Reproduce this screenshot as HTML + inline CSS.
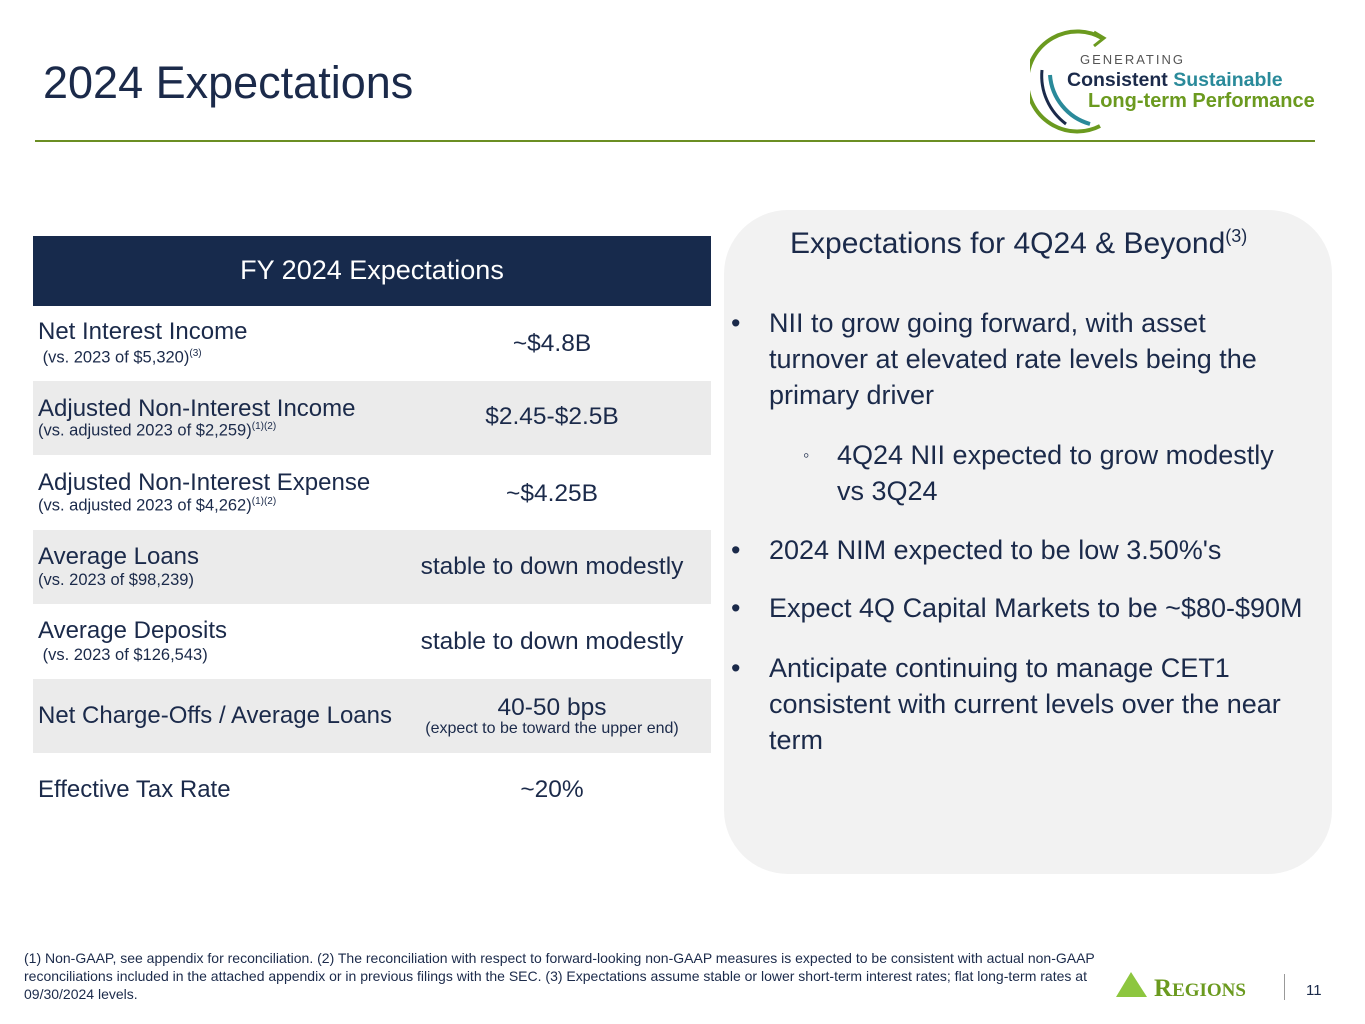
<!DOCTYPE html>
<html><head><meta charset="utf-8">
<style>
body{margin:0;width:1365px;height:1024px;background:#fff;position:relative;overflow:hidden;font-family:"Liberation Sans",sans-serif;color:#1b2a4a}
.a{position:absolute;white-space:nowrap}
.row{position:absolute;left:33px;width:678px;height:74px}
.shade{background:#ebebeb}
.lab{position:absolute;left:5px;font-size:24px;white-space:nowrap}
.sub{position:absolute;left:5px;font-size:16.5px;white-space:nowrap}
.val{position:absolute;left:360px;width:400px;margin-left:-41px;text-align:center;font-size:24.5px;white-space:nowrap}
sup{font-size:10px}
.b{position:absolute;font-size:27px;line-height:36px;left:769px;width:600px;white-space:nowrap}
.dot{position:absolute;left:-38px}
</style></head><body>
<div class="a" style="left:43px;top:57px;font-size:45px;">2024 Expectations</div>
<div style="position:absolute;left:35px;top:140px;width:1280px;height:2px;background:#6b8e23"></div>

<svg style="position:absolute;left:1030px;top:20px" width="300" height="120">
<path d="M72,18 A50,50 0 1 0 70,106" fill="none" stroke="#6b9a1f" stroke-width="4"/>
<path d="M64,12 L74,18 L64,26" fill="none" stroke="#6b9a1f" stroke-width="3"/>
<path d="M12,50 A60,60 0 0 0 36,104" fill="none" stroke="#1b2a4a" stroke-width="3"/>
<path d="M20,55 A55,55 0 0 0 60,104" fill="none" stroke="#2a8a9a" stroke-width="4"/>
<text x="50" y="44" font-size="13" fill="#555" letter-spacing="2" font-family="Liberation Sans">GENERATING</text>
<text x="37" y="66" font-size="19.5" font-weight="bold" fill="#1b2a4a" font-family="Liberation Sans">Consistent <tspan fill="#2a8a9a">Sustainable</tspan></text>
<text x="58" y="87" font-size="20" font-weight="bold" fill="#6b9a1f" font-family="Liberation Sans">Long-term Performance</text>
</svg>

<div>
<div style="position:absolute;left:33px;top:236px;width:678px;height:70px;background:#172a4c;color:#fff;font-size:27px;text-align:center;line-height:68px">FY 2024 Expectations</div>
<div class="row" style="top:306px"><div class="lab" style="top:12px">Net Interest Income</div><div class="sub" style="top:42px">&nbsp;(vs. 2023 of $5,320)<sup>(3)</sup></div><div class="val" style="top:24px">~$4.8B</div></div>
<div class="row shade" style="top:381px"><div class="lab" style="top:14px">Adjusted Non-Interest Income</div><div class="sub" style="top:40px">(vs. adjusted 2023 of $2,259)<sup>(1)(2)</sup></div><div class="val" style="top:22px">$2.45-$2.5B</div></div>
<div class="row" style="top:456px"><div class="lab" style="top:13px">Adjusted Non-Interest Expense</div><div class="sub" style="top:40px">(vs. adjusted 2023 of $4,262)<sup>(1)(2)</sup></div><div class="val" style="top:24px">~$4.25B</div></div>
<div class="row shade" style="top:530px"><div class="lab" style="top:13px">Average Loans</div><div class="sub" style="top:41px">(vs. 2023 of $98,239)</div><div class="val" style="top:23px">stable to down modestly</div></div>
<div class="row" style="top:605px"><div class="lab" style="top:12px">Average Deposits</div><div class="sub" style="top:41px">&nbsp;(vs. 2023 of $126,543)</div><div class="val" style="top:23px">stable to down modestly</div></div>
<div class="row shade" style="top:679px"><div class="lab" style="top:23px">Net Charge-Offs / Average Loans</div><div class="val" style="top:15px">40-50 bps</div><div class="val" style="top:41px;font-size:16px">(expect to be toward the upper end)</div></div>
<div class="row" style="top:753px"><div class="lab" style="top:23px">Effective Tax Rate</div><div class="val" style="top:23px">~20%</div></div>
</div>

<div style="position:absolute;left:724px;top:210px;width:608px;height:664px;background:#f2f2f2;border-radius:64px"></div>
<div class="a" style="left:790px;top:226px;font-size:30px">Expectations for 4Q24 &amp; Beyond<sup style="font-size:18px">(3)</sup></div>
<div class="b" style="top:305px"><span class="dot">•</span>NII to grow going forward, with asset<br>turnover at elevated rate levels being the<br>primary driver</div>
<div class="b" style="top:437px;left:837px"><span class="dot" style="left:-34px;font-size:18px">◦</span>4Q24 NII expected to grow modestly<br>vs 3Q24</div>
<div class="b" style="top:532px"><span class="dot">•</span>2024 NIM expected to be low 3.50%'s</div>
<div class="b" style="top:590px"><span class="dot">•</span>Expect 4Q Capital Markets to be ~$80-$90M</div>
<div class="b" style="top:650px"><span class="dot">•</span>Anticipate continuing to manage CET1<br>consistent with current levels over the near<br>term</div>

<div style="position:absolute;left:24px;top:949px;width:1095px;font-size:14px;line-height:18px">(1) Non-GAAP, see appendix for reconciliation. (2) The reconciliation with respect to forward-looking non-GAAP measures is expected to be consistent with actual non-GAAP reconciliations included in the attached appendix or in previous filings with the SEC. (3) Expectations assume stable or lower short-term interest rates; flat long-term rates at 09/30/2024 levels.</div>

<svg style="position:absolute;left:1114px;top:970px" width="160" height="30">
<polygon points="2,27 17,2 33,27" fill="#8dc63f"/>
<text x="40" y="26" font-size="25" font-family="Liberation Serif" font-weight="bold" fill="#6b9a1f">R<tspan font-size="19">EGIONS</tspan></text>
</svg>
<div style="position:absolute;left:1284px;top:974px;width:1px;height:26px;background:#999"></div>
<div class="a" style="left:1306px;top:982px;font-size:15px">11</div>
</body></html>
